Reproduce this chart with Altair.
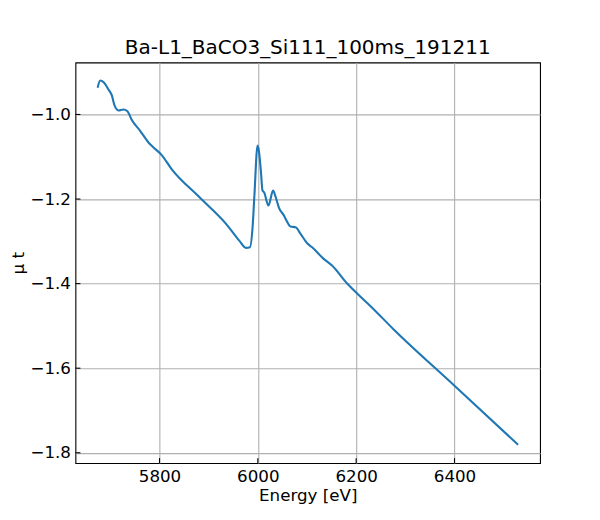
import altair as alt
import pandas as pd

energy = [5674.1, 5679.4, 5686.9, 5696.4, 5703.0, 5708.5, 5716.6, 5726.7, 5734.7,
          5743.4, 5760.2, 5777.2, 5787.3, 5804.0, 5824.2, 5881.4, 5935.4, 5962.2,
          5975.8, 5983.8, 5989.3, 5993.0, 5999.4, 6002.0, 6006.1, 6009.5, 6012.7,
          6021.6, 6030.9, 6036.4, 6043.0, 6053.1, 6056.6, 6066.7, 6076.8, 6086.9,
          6100.4, 6110.5, 6133.9, 6150.9, 6181.2, 6201.4, 6228.3, 6275.3, 6400.0,
          6529.3]
mu_t = [-0.9368, -0.9195, -0.9243, -0.9415, -0.955, -0.9787, -0.9905, -0.9882, -0.9922,
        -1.0125, -1.0379, -1.0656, -1.0774, -1.0954, -1.1285, -1.1957, -1.2587, -1.2982,
        -1.3155, -1.3141, -1.2667, -1.1917, -1.0734, -1.085, -1.1325, -1.1799, -1.1839,
        -1.2154, -1.1799, -1.1957, -1.2208, -1.2391, -1.2469, -1.2651, -1.2667, -1.2824,
        -1.3046, -1.3141, -1.3415, -1.3574, -1.3993, -1.4229, -1.4521, -1.5072, -1.6414,
        -1.7811]

x_ticks = [5800, 6000, 6200, 6400]
y_ticks = [-1.0, -1.2, -1.4, -1.6, -1.8]

W, H = 465, 401
FONT = "DejaVu Sans"

df = pd.DataFrame({"energy": energy, "mu": mu_t})
xt = pd.DataFrame({"v": x_ticks})
yt = pd.DataFrame({"v": y_ticks})

xscale = alt.Scale(domain=[5629, 6574], nice=False, zero=False)
yscale = alt.Scale(domain=[-1.8245, -0.877], nice=False, zero=False)

line = alt.Chart(df).mark_line(color="#1f77b4", strokeWidth=2.1, interpolate="monotone").encode(
    x=alt.X("energy:Q", scale=xscale,
            axis=alt.Axis(title="Energy [eV]", values=x_ticks, format="d", grid=True,
                          gridColor="#b0b0b0", gridWidth=1.1, ticks=False, tickSize=0,
                          domain=False, labelPadding=5, titlePadding=3)),
    y=alt.Y("mu:Q", scale=yscale,
            axis=alt.Axis(title="μ t", values=y_ticks, format=".1f", grid=True,
                          gridColor="#b0b0b0", gridWidth=1.1, ticks=False, tickSize=0,
                          domain=False, labelPadding=5, titlePadding=2)),
)

xtick_marks = alt.Chart(xt).mark_rule(color="black", strokeWidth=1.1).encode(
    x=alt.X("v:Q", scale=xscale),
    y=alt.value(H),
    y2=alt.value(H - 5),
)
ytick_marks = alt.Chart(yt).mark_rule(color="black", strokeWidth=1.1).encode(
    y=alt.Y("v:Q", scale=yscale),
    x=alt.value(0),
    x2=alt.value(5),
)

chart = alt.layer(line, xtick_marks, ytick_marks).properties(
    width=W, height=H,
    title=alt.TitleParams("Ba-L1_BaCO3_Si111_100ms_191211", font=FONT, fontSize=20,
                          fontWeight="normal", color="black", offset=7,
                          baseline="alphabetic", dy=19),
    autosize=alt.AutoSizeParams(type="none"),
    padding={"left": 67.5, "top": 54.3, "right": 52, "bottom": 48},
).configure_view(stroke="black", strokeWidth=1.1).configure_axis(
    labelFont=FONT, labelFontSize=16.7, labelColor="black",
    titleFont=FONT, titleFontSize=16.7, titleColor="black", titleFontWeight="normal",
)

chart.save("out.html", embed_options={"renderer": "svg", "actions": False})
